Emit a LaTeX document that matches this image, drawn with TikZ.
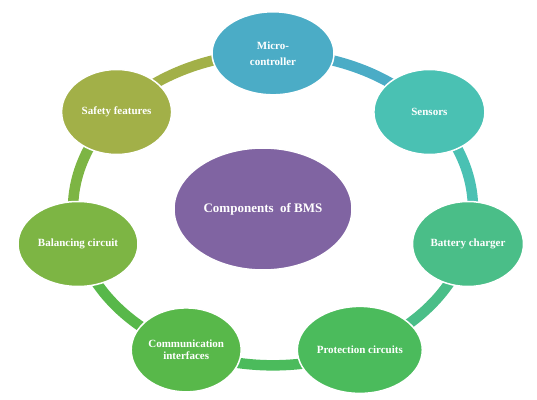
\documentclass[tikz,border=0pt]{standalone}
\usepackage{fontspec}
\setmainfont{Liberation Serif}
\usetikzlibrary{shapes.geometric,backgrounds}
\definecolor{microblue}{RGB}{75,172,198}
\definecolor{sensorteal}{RGB}{74,193,179}
\definecolor{chargergreen}{RGB}{74,190,136}
\definecolor{protectgreen}{RGB}{75,187,92}
\definecolor{commgreen}{RGB}{88,184,74}
\definecolor{balancegreen}{RGB}{125,181,68}
\definecolor{safetyolive}{RGB}{162,176,72}
\definecolor{bmspurple}{RGB}{128,100,162}
\begin{document}
\begin{tikzpicture}[x=1pt, y=1pt,
    part/.style={ellipse, draw=white, line width=1.5pt, inner sep=0pt, text=white, align=center,
        font=\bfseries\fontsize{11}{12}\selectfont, minimum width=111pt, minimum height=85pt},
    ring/.style={line width=10.5pt}]
    \useasboundingbox (0,0) rectangle (537,399);
    \node[part, fill=microblue, minimum width=122pt, minimum height=83pt] (micro) at (273, 345.7) {Micro-\\[4pt]controller};
    \node[part, fill=sensorteal] (sensors) at (429.4, 287.0) {Sensors};
    \node[part, fill=chargergreen] (charger) at (468.0, 155.0) {Battery charger};
    \node[part, fill=protectgreen, minimum width=125pt, minimum height=87pt] (protect) at (359.8, 49.1) {Protection circuits};
    \node[part, fill=commgreen, minimum width=110pt, minimum height=84pt] (comm) at (186.2, 49.1) {Communication\\interfaces};
    \node[part, fill=balancegreen, minimum width=120pt] (balance) at (78.0, 155.0) {Balancing circuit};
    \node[part, fill=safetyolive, minimum width=110pt] (safety) at (116.6, 287.0) {Safety features};
    \node[part, fill=bmspurple, minimum width=178pt, minimum height=122pt,
        font=\bfseries\fontsize{13}{15}\selectfont] (bms) at (263, 190) {Components\ \ of BMS};
    % ring segments under the ellipses
    \begin{pgfonlayer}{background}
        \draw[ring, microblue] (micro.center) arc[start angle=90, delta angle=-51.43, x radius=200, y radius=156];
        \draw[ring, sensorteal] (sensors.center) arc[start angle=38.57, delta angle=-51.43, x radius=200, y radius=156];
        \draw[ring, chargergreen] (charger.center) arc[start angle=-12.86, delta angle=-51.43, x radius=200, y radius=156];
        \draw[ring, protectgreen] (protect.center) arc[start angle=-64.29, delta angle=-51.43, x radius=200, y radius=156];
        \draw[ring, commgreen] (comm.center) arc[start angle=-115.71, delta angle=-51.43, x radius=200, y radius=156];
        \draw[ring, balancegreen] (balance.center) arc[start angle=-167.14, delta angle=-51.43, x radius=200, y radius=156];
        \draw[ring, safetyolive] (safety.center) arc[start angle=141.43, delta angle=-51.43, x radius=200, y radius=156];
    \end{pgfonlayer}
\end{tikzpicture}
\end{document}
